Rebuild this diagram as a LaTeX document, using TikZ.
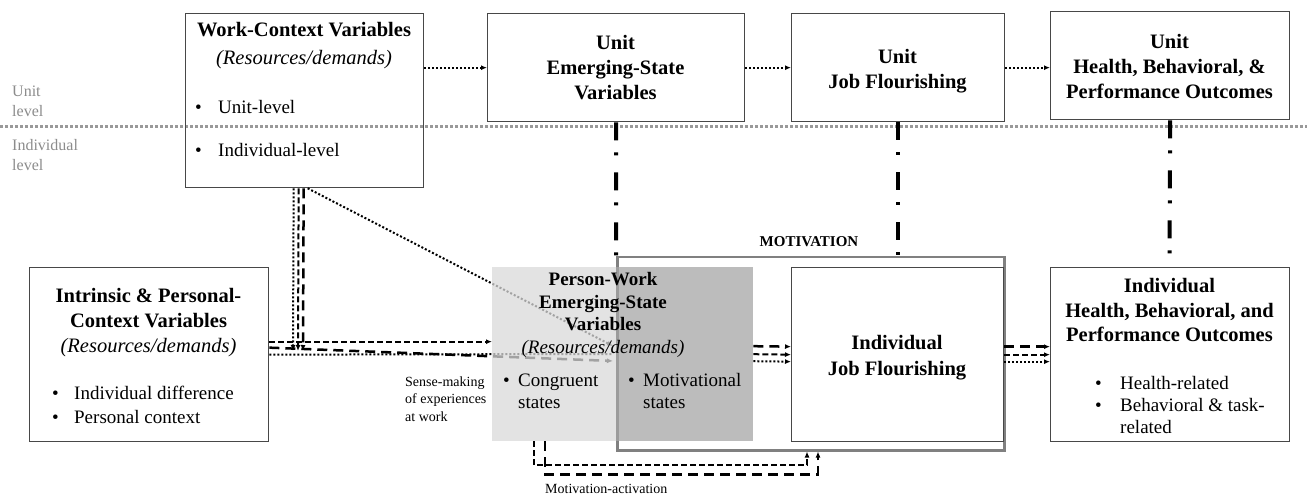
\documentclass[tikz,border=0pt]{standalone}
\usepackage{fontspec}
\setmainfont{Liberation Serif}
\usetikzlibrary{arrows.meta}
\begin{document}
\begin{tikzpicture}[x=1pt,y=-1pt,
  >={Latex[length=6pt,width=5pt]},
  box/.style={draw=black!72, line width=1.3pt, inner sep=0pt, anchor=north west},
  ghost/.style={inner sep=0pt, anchor=north west},
  motbox/.style={draw=black!50, line width=2.5pt, inner sep=0pt, anchor=north west},
  ttl/.style={font=\fontsize{20.5}{25}\selectfont, inner sep=0pt, anchor=base},
  ttlsm/.style={font=\fontsize{19}{22.5}\selectfont, inner sep=0pt, anchor=base},
  itm/.style={font=\fontsize{19}{22}\selectfont, inner sep=0pt, anchor=base west},
  lvl/.style={font=\fontsize{16}{20}\selectfont, text=black!45, inner sep=0pt, anchor=base west, align=left},
  small/.style={font=\fontsize{14}{17.5}\selectfont, inner sep=0pt, anchor=base west, align=left},
  levelline/.style={draw=black!40, line width=3pt, dash pattern=on 3pt off 2pt},
  dotl/.style={line width=2pt, dash pattern=on 2pt off 2pt},
  dashf/.style={line width=2pt, dash pattern=on 6pt off 3pt},
  dashc/.style={line width=2.5pt, dash pattern=on 10pt off 6pt},
  dashdot/.style={line width=4pt, dash pattern=on 18pt off 12pt on 3pt off 17pt},
]
\useasboundingbox (0,0) rectangle (1307,497);

% level separator
\coordinate (lvA) at (0,127);
\coordinate (lvB) at (1307,127);
\draw[levelline] (lvA) -- (lvB);
\node[lvl] (lunit) at (12,117) {Unit\\level};
\node[lvl] (lind) at (12,171) {Individual\\level};

% boxes
\node[box, minimum width=238pt, minimum height=174pt] (wc) at (185,13) {};
\node[box, minimum width=257pt, minimum height=108pt] (ues) at (487,13) {};
\node[box, minimum width=213pt, minimum height=108pt] (ujf) at (791,13) {};
\node[box, minimum width=239pt, minimum height=108pt] (uh) at (1050,11) {};
\node[box, minimum width=239pt, minimum height=174pt] (ip) at (29,267) {};
\node[motbox, minimum width=387pt, minimum height=193pt] (mot) at (616,256) {};
\node[box, minimum width=212pt, minimum height=174pt] (ijf) at (791,267) {};
\node[box, minimum width=239pt, minimum height=174pt] (ih) at (1050,267) {};
\node[ghost, minimum width=261pt, minimum height=174pt] (pw) at (492,267) {};

% top-level dotted arrows
\draw[dotl,->] (wc.east |- ues.west) -- (ues.west);
\draw[dotl,->] (ues.east) -- (ujf.west);
\draw[dotl,->] (ujf.east) -- (ujf.east -| uh.west);

% cross-level dash-dot links
\draw[dashdot] (ues.south) -- (mot.north west);
\draw[dashdot] (ujf.south) -- (ujf.south |- mot.north);
\coordinate (uhend) at (1169.5,254);
\draw[dashdot] (uh.south) -- (uhend);

% work-context down to the bundle
\coordinate (jd) at (293,351);
\coordinate (jf) at (298,351);
\coordinate (jc) at (303,351);
\draw[dotl,->] ([xshift=-11pt]wc.south) -- (jd);
\draw[dashf,->] ([xshift=-6pt]wc.south) -- (jf);
\draw[dashc,->] ([xshift=-1pt]wc.south) -- (jc);
\coordinate (pwd) at (613,346);
\draw[dotl,->] ([xshift=3pt]wc.south) -- (pwd);

% intrinsic to person-work
\coordinate (pwa) at (613,354);
\coordinate (pwb) at (613,361);
\draw[dotl] (ip.east) -- (pwa);
\draw[dashc,->] ([yshift=7pt]ip.east) -- (pwb);
\draw[dashf,->] ([yshift=13pt]ip.east) -- ([yshift=13pt]ip.east -| pw.west);

% person-work fills (semi-transparent)
\fill[black!15, fill opacity=0.75] (pw.north west) rectangle (mot.west |- pw.south);
\fill[black!35, fill opacity=0.75] (mot.west |- pw.north) rectangle (pw.south east);

% person-work to job flourishing to outcomes
\draw[dotl,->] ([yshift=-7pt]pw.east) -- ([yshift=-7pt]ijf.west);
\draw[dashf,->] (pw.east) -- (ijf.west);
\draw[dashc,->] ([yshift=8pt]pw.east) -- ([yshift=8pt]ijf.west);
\draw[dotl,->] ([yshift=-7pt]ijf.east) -- ([yshift=-7pt]ih.west);
\draw[dashf,->] (ijf.east) -- (ih.west);
\draw[dashc,->] ([yshift=8pt]ijf.east) -- ([yshift=8pt]ih.west);

% motivation-activation feedback
\draw[dashf,->] ([xshift=42pt]pw.south west) -- ++(0,24) -| ([xshift=191pt]mot.south west);
\draw[dashc,->] ([xshift=53pt]pw.south west) -- ++(0,33) -| ([xshift=202pt]mot.south west);

% texts
\node[ttl] (wct) at (304,37) {\begin{tabular}[t]{@{}c@{}}\bfseries Work-Context Variables\\[3pt]\itshape (Resources/demands)\end{tabular}};
\node[itm] (wcb1) at (195,114) {\makebox[23pt][l]{•}Unit-level};
\node[itm] (wcb2) at (195,157) {\makebox[23pt][l]{•}Individual-level};

\node[ttl] (uest) at (615.5,50) {\begin{tabular}[t]{@{}c@{}}\bfseries Unit\\\bfseries Emerging-State\\\bfseries Variables\end{tabular}};
\node[ttl] (ujft) at (897.5,64) {\begin{tabular}[t]{@{}c@{}}\bfseries Unit\\\bfseries Job Flourishing\end{tabular}};
\node[ttl] (uht) at (1169.5,49) {\begin{tabular}[t]{@{}c@{}}\bfseries Unit\\\bfseries Health, Behavioral, \&\\\bfseries Performance Outcomes\end{tabular}};

\node[ttl] (ipt) at (148.5,302) {\begin{tabular}[t]{@{}c@{}}\bfseries Intrinsic \& Personal-\\\bfseries Context Variables\\\itshape (Resources/demands)\end{tabular}};
\node[itm, font=\fontsize{19}{24}\selectfont] (ipb) at (52,399) {\begin{tabular}[t]{@{}p{22pt}@{}l@{}}•&Individual difference\\•&Personal context\end{tabular}};

\node[ttlsm] (pwt) at (603,286) {\begin{tabular}[t]{@{}c@{}}\bfseries Person-Work\\\bfseries Emerging-State\\\bfseries Variables\\\itshape (Resources/demands)\end{tabular}};
\node[itm] (pwb1) at (503,386) {\begin{tabular}[t]{@{}p{15pt}@{}l@{}}•&Congruent\\&states\end{tabular}};
\node[itm] (pwb2) at (628,386) {\begin{tabular}[t]{@{}p{15pt}@{}l@{}}•&Motivational\\&states\end{tabular}};

\node[ttl, font=\fontsize{20.5}{26}\selectfont] (ijft) at (897,349) {\begin{tabular}[t]{@{}c@{}}\bfseries Individual\\\bfseries Job Flourishing\end{tabular}};

\node[ttl] (iht) at (1169.5,292) {\begin{tabular}[t]{@{}c@{}}\bfseries Individual\\\bfseries Health, Behavioral, and\\\bfseries Performance Outcomes\end{tabular}};
\node[itm] (ihb) at (1095,389) {\begin{tabular}[t]{@{}p{25pt}@{}l@{}}•&Health-related\\•&Behavioral \& task-\\&related\end{tabular}};

\node[font=\fontsize{15}{18}\selectfont\bfseries, inner sep=0pt, anchor=base] (motl) at (809,247) {MOTIVATION};
\node[small] (sense) at (405,421) {Sense-making\\of experiences\\at work};
\node[small] (mact) at (545,493) {Motivation-activation};
\end{tikzpicture}
\end{document}
